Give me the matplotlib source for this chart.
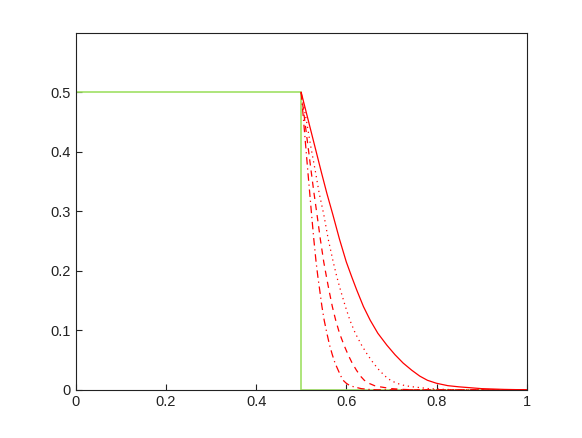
import numpy as np
import matplotlib.pyplot as plt

# step profile (green)
x_step = [0.0, 0.5, 0.5, 1.0]
y_step = [0.5, 0.5, 0.0, 0.0]

# red curves, values (same heights, different x)
y_red = [0.5, 0.455, 0.41, 0.365, 0.33, 0.295, 0.253, 0.215, 0.19, 0.168, 0.14, 0.117, 0.095,
         0.075, 0.059, 0.045, 0.033, 0.023, 0.016, 0.011, 0.007, 0.005, 0.002, 0.0007, 0.0]

x_solid = [0.5, 0.515, 0.53, 0.545, 0.557, 0.57, 0.585, 0.6, 0.612, 0.623, 0.638, 0.653, 0.67,
           0.69, 0.708, 0.726, 0.745, 0.763, 0.78, 0.8, 0.825, 0.85, 0.9, 0.95, 1.0]
x_dot = [0.5, 0.511, 0.521, 0.532, 0.540, 0.550, 0.560, 0.571, 0.579, 0.587, 0.598, 0.608, 0.620,
         0.634, 0.647, 0.660, 0.673, 0.686, 0.698, 0.712, 0.730, 0.748, 0.783, 0.818, 0.854]
x_dash = [0.5, 0.5075, 0.515, 0.5225, 0.5285, 0.535, 0.5425, 0.55, 0.556, 0.5615, 0.569, 0.5765, 0.585,
          0.595, 0.604, 0.613, 0.6225, 0.6315, 0.64, 0.65, 0.6625, 0.675, 0.7, 0.725, 0.75]
x_dashdot = [0.5, 0.505, 0.510, 0.515, 0.519, 0.523, 0.528, 0.533, 0.537, 0.541, 0.546, 0.551, 0.557,
             0.563, 0.569, 0.575, 0.582, 0.588, 0.593, 0.600, 0.608, 0.617, 0.633, 0.650, 0.667]

plt.rcParams['font.family'] = ['Liberation Sans', 'DejaVu Sans']

fig = plt.figure(figsize=(5.82, 4.38), dpi=100)
ax = fig.add_axes([0.13, 0.11, 0.775, 0.815])

ax.plot(x_step, y_step, color='#a0e065', lw=1.2)
styles = ['-', (0, (1, 3)), (0, (5, 4)), (0, (6, 3, 1, 3))]
for xs, ls in zip([x_solid, x_dot, x_dash, x_dashdot], styles):
    ax.plot(xs + [1.0], y_red + [0.0], color='red', lw=0.9, ls=ls)

ax.set_xlim(0, 1)
ax.set_ylim(0, 0.6)
ax.set_xticks([0, 0.2, 0.4, 0.6, 0.8, 1])
ax.set_xticklabels(['0', '0.2', '0.4', '0.6', '0.8', '1'])
ax.set_yticks([0, 0.1, 0.2, 0.3, 0.4, 0.5])
ax.set_yticklabels(['0', '0.1', '0.2', '0.3', '0.4', '0.5'])
ax.tick_params(direction='in', length=4, labelsize=10.5, colors='#222222')
for s in ax.spines.values():
    s.set_color('#222222')
    s.set_linewidth(0.8)

fig.savefig('out.png', dpi=100)
